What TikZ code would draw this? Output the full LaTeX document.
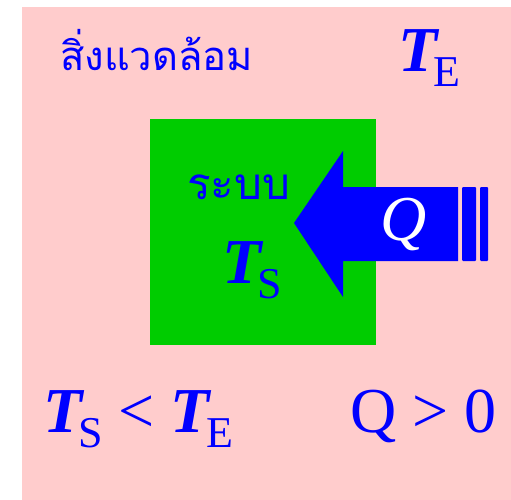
\documentclass[tikz,border=0pt]{standalone}
\usepackage{fontspec}
\setmainfont{Liberation Serif}
\newfontfamily\thaifont[Script=Thai]{Loma}
\usetikzlibrary{positioning}
\definecolor{envpink}{RGB}{255,204,204}
\definecolor{sysgreen}{RGB}{0,204,0}
\definecolor{heatblue}{RGB}{0,0,255}
\newcommand{\tsub}[1]{\textbf{\textit{T}}\kern-6pt\raisebox{-15pt}{\fontsize{44}{44}\selectfont #1}}
\tikzset{
  bigtxt/.style ={text=heatblue,font=\fontsize{64}{64}\selectfont,inner sep=0pt,anchor=base west},
  thaitxt/.style={text=heatblue,font=\thaifont\fontsize{40}{40}\selectfont,inner sep=0pt,anchor=base west},
  sysbox/.style ={rectangle,fill=sysgreen,minimum width=226pt,minimum height=226pt,inner sep=0pt},
  heatbar/.style={fill=heatblue,rounded corners=1pt},
}
\begin{document}
\begin{tikzpicture}[x=1pt,y=-1pt]
  \useasboundingbox (0,0) rectangle (511,500);
  \fill[envpink] (22,7) rectangle (511,500);
  \node[sysbox] (sys) at (263,232) {};
  % heat arrow into the system
  \fill[heatblue] (294,223) -- (343,151) -- (343,187) -- (458,187) -- (458,261)
    -- (343,261) -- (343,297) -- cycle;
  \fill[heatbar] (462,187) rectangle (476,261);
  \fill[heatbar] (480,187) rectangle (488,261);
  \node[bigtxt,text=white] (q) at (380,240) {\textit{Q}};
  % labels
  \node[thaitxt] (env) at (60,71) {สิ่งแวดล้อม};
  \node[bigtxt] (te) at (398,72) {\tsub{E}};
  \node[thaitxt,font=\thaifont\fontsize{44}{44}\selectfont] (sysname) at (187,199) {ระบบ};
  \node[bigtxt] (ts) at (222,283) {\tsub{S}};
  \node[bigtxt] (cond) at (43,432) {\tsub{S} < \tsub{E}};
  \node[bigtxt] (sign) at (350,432) {Q > 0};
\end{tikzpicture}
\end{document}
